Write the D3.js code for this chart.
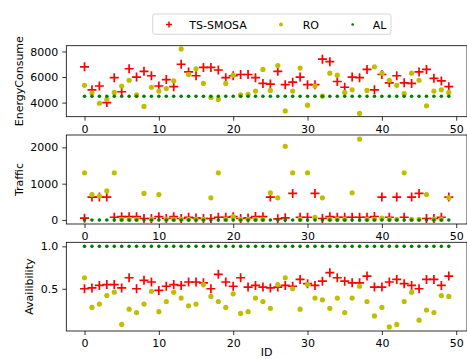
<!DOCTYPE html>
<html>
<head>
<meta charset="utf-8">
<script src="https://cdn.jsdelivr.net/npm/d3@7"></script>
<style>
  body { margin: 0; background: #fff; }
  svg { display: block; font-family: "DejaVu Sans", sans-serif; }
</style>
</head>
<body>
<svg id="chart" width="467" height="359"></svg>
<script>
// data
const ids = d3.range(50);
const seriesNames = ["TS-SMOSA", "RO", "AL"];

const energyTS = [6800,5000,5300,4000,5950,4850,6650,6000,6450,6100,
  5300,5800,5250,7000,6400,6100,6750,6750,6550,5950,
  6100,6200,6200,5950,5500,5450,6450,5400,5600,6000,
  5400,5400,7400,7200,5650,5200,6000,5950,6600,5000,
  6200,5550,6100,5550,5500,6400,6600,5900,5700,5250];
const energyRO = [5350,4750,3950,4250,4800,5300,5750,4600,3700,5200,
  4900,5100,5700,8200,6200,6650,5500,4400,4250,5500,
  6150,4600,4650,4900,6600,4950,6900,3350,4900,6700,
  3800,5300,4500,6300,6150,4800,5000,3150,4950,6800,
  6300,5750,5350,4700,6300,5750,3750,4900,5000,4800];
const energyAL = [4500,4500,4500,4500,4500,4500,4500,4500,4500,4500,
  4500,4500,4500,4500,4500,4500,4500,4500,4500,4500,
  4500,4500,4500,4500,4500,4500,4500,4500,4500,4500,
  4500,4500,4500,4500,4500,4500,4500,4500,4500,4500,
  4500,4500,4500,4500,4500,4500,4500,4500,4500,4500];

const trafficTS = [50,630,630,630,75,90,90,90,40,40,
  90,40,90,40,75,56,40,40,75,75,
  90,40,56,95,90,630,30,60,730,75,
  75,730,40,90,75,75,75,75,75,95,
  630,75,630,75,630,730,40,40,75,630];
const trafficRO = [1300,700,660,800,1300,20,20,20,730,20,
  700,20,20,20,20,20,20,610,1300,20,
  90,20,20,20,20,750,610,2030,1300,20,
  1300,70,610,20,20,20,750,2230,20,20,
  50,20,20,1300,20,20,700,20,20,610];
const trafficAL = [0,0,0,0,0,0,0,0,0,0,
  0,0,0,0,0,0,0,0,0,0,
  0,0,0,0,0,0,0,0,0,0,
  0,0,0,0,0,0,0,0,0,0,
  0,0,0,0,0,0,0,0,0,0];

const availTS = [0.50,0.51,0.54,0.55,0.55,0.51,0.63,0.50,0.60,0.58,
  0.48,0.53,0.55,0.54,0.58,0.58,0.57,0.50,0.67,0.58,
  0.53,0.63,0.52,0.54,0.52,0.51,0.52,0.54,0.53,0.61,
  0.56,0.54,0.59,0.69,0.63,0.59,0.57,0.57,0.65,0.52,
  0.52,0.58,0.61,0.56,0.54,0.50,0.61,0.61,0.54,0.65];
const availRO = [0.63,0.28,0.32,0.42,0.46,0.08,0.26,0.22,0.32,0.47,
  0.23,0.35,0.46,0.39,0.30,0.32,0.55,0.41,0.35,0.28,
  0.44,0.21,0.23,0.39,0.35,0.27,0.55,0.63,0.50,0.26,
  0.55,0.39,0.37,0.27,0.39,0.22,0.39,0.53,0.35,0.18,
  0.28,0.05,0.08,0.35,0.46,0.13,0.25,0.22,0.42,0.41];
const availAL = [1,1,1,1,1,1,1,1,1,1,
  1,1,1,1,1,1,1,1,1,1,
  1,1,1,1,1,1,1,1,1,1,
  1,1,1,1,1,1,1,1,1,1,
  1,1,1,1,1,1,1,1,1,1];

const xTicks = [0, 10, 20, 30, 40, 50];
const energyTicks = [4000, 6000, 8000];
const trafficTicks = [0, 1000, 2000];
const availTicks = [0.5, 1.0];

// layout
const svg = d3.select("#chart");
const left = 66.3, right = 467;
const fontSize = 11;

// matplotlib style 5% margins
function padded(vals) {
  const [lo, hi] = d3.extent(vals);
  const m = (hi - lo) * 0.05;
  return [lo - m, hi + m];
}

const x = d3.scaleLinear().domain(padded(ids)).range([left, right]);

const styles = [
  { color: "#ff0000", shape: "plus" },
  { color: "#bfbf00", shape: "dot", r: 2.6 },
  { color: "#008000", shape: "dot", r: 1.8 }
];

const panels = [
  { label: "EnergyConsume", top: 45.7, bottom: 116.7, labelX: 23,
    series: [energyTS, energyRO, energyAL], ticks: energyTicks, fmt: d3.format("d") },
  { label: "Traffic", top: 135, bottom: 224, labelX: 23,
    series: [trafficTS, trafficRO, trafficAL], ticks: trafficTicks, fmt: d3.format("d") },
  { label: "Availibility", top: 242.3, bottom: 331, labelX: 33,
    series: [availTS, availRO, availAL], ticks: availTicks, fmt: d3.format(".1f") }
];

function styleAxis(g) {
  g.select(".domain").remove();
  g.selectAll(".tick line").attr("stroke", "#000").attr("stroke-width", 0.8);
  g.selectAll(".tick text").attr("fill", "#000")
    .attr("font-size", fontSize).attr("font-family", "DejaVu Sans, sans-serif");
}

function drawMarks(g, vals, st, y) {
  if (st.shape === "plus") {
    g.selectAll("path.pt").data(vals).enter().append("path")
      .attr("class", "pt")
      .attr("d", "M-4.5,0H4.5M0,-4.5V4.5")
      .attr("transform", (d, i) => `translate(${x(ids[i])},${y(d)})`)
      .attr("stroke", st.color)
      .attr("stroke-width", 1.7)
      .attr("fill", "none");
  } else {
    g.selectAll("circle.pt").data(vals).enter().append("circle")
      .attr("class", "pt")
      .attr("cx", (d, i) => x(ids[i]))
      .attr("cy", d => y(d))
      .attr("r", st.r)
      .attr("fill", st.color);
  }
}

panels.forEach(p => {
  const y = d3.scaleLinear()
    .domain(padded(p.series.flat()))
    .range([p.bottom, p.top]);

  svg.append("g")
    .attr("transform", `translate(0,${p.bottom})`)
    .call(d3.axisBottom(x).tickValues(xTicks).tickSize(4).tickPadding(4.5))
    .call(styleAxis);

  svg.append("g")
    .attr("transform", `translate(${left},0)`)
    .call(d3.axisLeft(y).tickValues(p.ticks).tickFormat(p.fmt).tickSize(4).tickPadding(4))
    .call(styleAxis);

  p.series.forEach((vals, k) => {
    drawMarks(svg.append("g"), vals, styles[k], y);
  });

  svg.append("rect")
    .attr("x", left).attr("y", p.top)
    .attr("width", right - left).attr("height", p.bottom - p.top)
    .attr("fill", "none").attr("stroke", "#000").attr("stroke-width", 0.8);

  svg.append("text")
    .attr("transform", `translate(${p.labelX},${(p.top + p.bottom) / 2}) rotate(-90)`)
    .attr("text-anchor", "middle")
    .attr("font-size", fontSize)
    .attr("fill", "#000")
    .text(p.label);
});

// x label, kept just inside the bottom edge
svg.append("text")
  .attr("x", (left + right) / 2)
  .attr("y", 355.5)
  .attr("text-anchor", "middle")
  .attr("font-size", fontSize)
  .attr("fill", "#000")
  .text("ID");

// legend
const legend = svg.append("g");
legend.append("rect")
  .attr("x", 152.7).attr("y", 14).attr("width", 238.3).attr("height", 20.3)
  .attr("rx", 2.5)
  .attr("fill", "#fff").attr("stroke", "#d6d6d6").attr("stroke-width", 1);

const legendItems = [
  { mx: 169, tx: 189.3 },
  { mx: 281, tx: 302.7 },
  { mx: 352.7, tx: 372.7 }
];
seriesNames.forEach((name, k) => {
  const st = styles[k], it = legendItems[k];
  if (st.shape === "plus") {
    legend.append("path")
      .attr("d", "M-3,0H3M0,-3V3")
      .attr("transform", `translate(${it.mx},24.5)`)
      .attr("stroke", st.color).attr("stroke-width", 1.5).attr("fill", "none");
  } else {
    legend.append("circle")
      .attr("cx", it.mx).attr("cy", 24.5).attr("r", st.r * 0.75)
      .attr("fill", st.color);
  }
  legend.append("text")
    .attr("x", it.tx).attr("y", 28.5)
    .attr("font-size", fontSize).attr("fill", "#000")
    .text(name);
});
</script>
</body>
</html>
